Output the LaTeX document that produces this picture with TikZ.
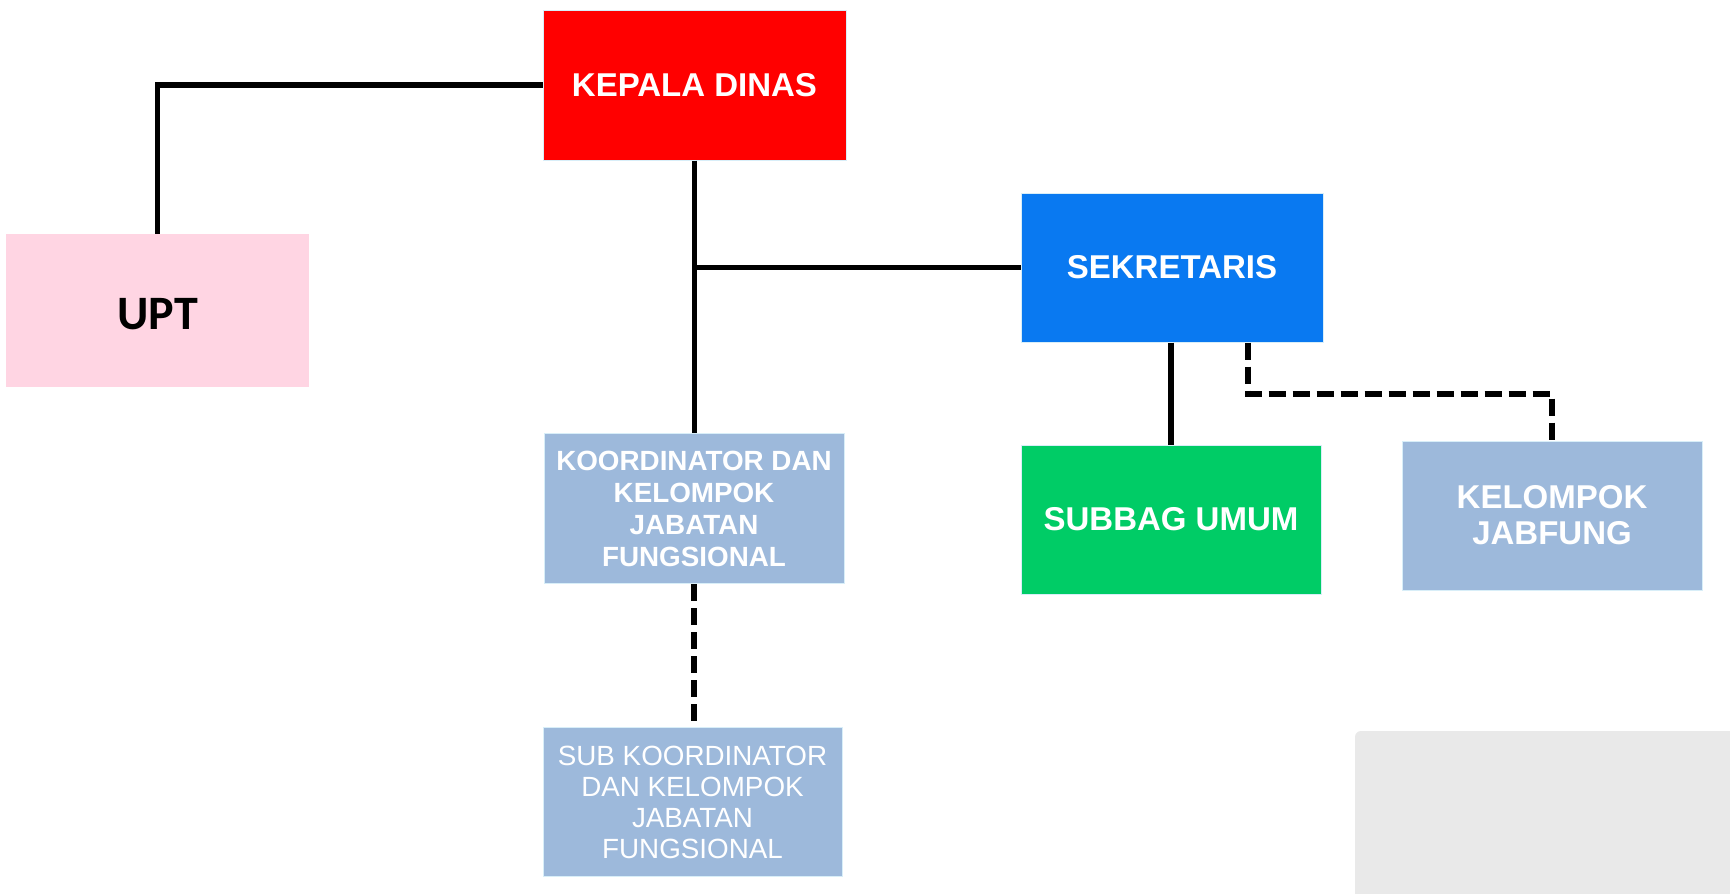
\documentclass[tikz,border=0pt]{standalone}
\usepackage{fontspec}
\setmainfont{Liberation Sans}
\newfontfamily\uptfont{Carlito}
\definecolor{cred}{HTML}{FF0000}
\definecolor{cpink}{HTML}{FFD5E3}
\definecolor{cblue}{HTML}{0979F1}
\definecolor{cgreen}{HTML}{00CC66}
\definecolor{csteel}{HTML}{9DB9DB}
\definecolor{cedge}{HTML}{D8EEF8}
\definecolor{cgrey}{HTML}{E9E9E9}
\tikzset{
  box/.style={rectangle, draw=cedge, line width=1pt, inner sep=0pt, align=center, text=white},
  bigtxt/.style={font=\fontsize{33}{36}\selectfont\bfseries},
  smalltxt/.style={font=\fontsize{27.8}{32}\selectfont\bfseries},
  smallreg/.style={font=\fontsize{27.8}{31}\selectfont},
  link/.style={line width=5.8pt, draw=black},
  dlink/.style={line width=5.8pt, draw=black, dash pattern=on 17pt off 7pt}
}
\begin{document}
\begin{tikzpicture}[x=1pt,y=-1pt]
\fill[white] (0,0) rectangle (1730,894);
\useasboundingbox (0,0) rectangle (1730,894);
% greyed area bottom right
\fill[cgrey] (1355,894) -- (1355,737) arc[start angle=180,end angle=270,radius=6] -- (1730,731) -- (1730,894) -- cycle;

\node[box, bigtxt, fill=cred, minimum width=303pt, minimum height=150pt] (kepala) at (694.5,85) {KEPALA DINAS};
\node[box, fill=cpink, draw=none, minimum width=303pt, minimum height=153pt] (upt) at (157.5,310.5) {};
\node[text=black, inner sep=0pt, font=\uptfont\fontsize{48}{50}\selectfont\bfseries] (upttxt) at (157.5,314.5) {UPT};
\node[box, bigtxt, fill=cblue, minimum width=302pt, minimum height=149pt] (sek) at (1172,267.5) {SEKRETARIS};
\node[box, bigtxt, fill=cgreen, minimum width=300pt, minimum height=149pt] (subbag) at (1171,519.5) {SUBBAG UMUM};
\node[box, bigtxt, fill=csteel, minimum width=300pt, minimum height=149pt] (kel) at (1552,515.5) {KELOMPOK\\JABFUNG};
\node[box, smalltxt, fill=csteel, minimum width=300pt, minimum height=150pt] (koord) at (694,508.5) {KOORDINATOR DAN\\KELOMPOK\\JABATAN\\FUNGSIONAL};
\node[box, smallreg, fill=csteel, minimum width=299pt, minimum height=149pt] (subk) at (692.5,802) {SUB KOORDINATOR\\DAN KELOMPOK\\JABATAN\\FUNGSIONAL};

\coordinate (dk) at (1248,394);

\draw[link] (kepala.west) -| (upt.north);
\draw[link] (kepala.south) -- (kepala.south |- koord.north);
\draw[link] (kepala.south |- sek.west) -- (sek.west);
\draw[link] (subbag.north |- sek.south) -- (subbag.north);
\draw[dlink] (dk |- sek.south) -- (dk) -| (kel.north);
\draw[dlink] (koord.south) -- (koord.south |- subk.north);
\end{tikzpicture}
\end{document}
